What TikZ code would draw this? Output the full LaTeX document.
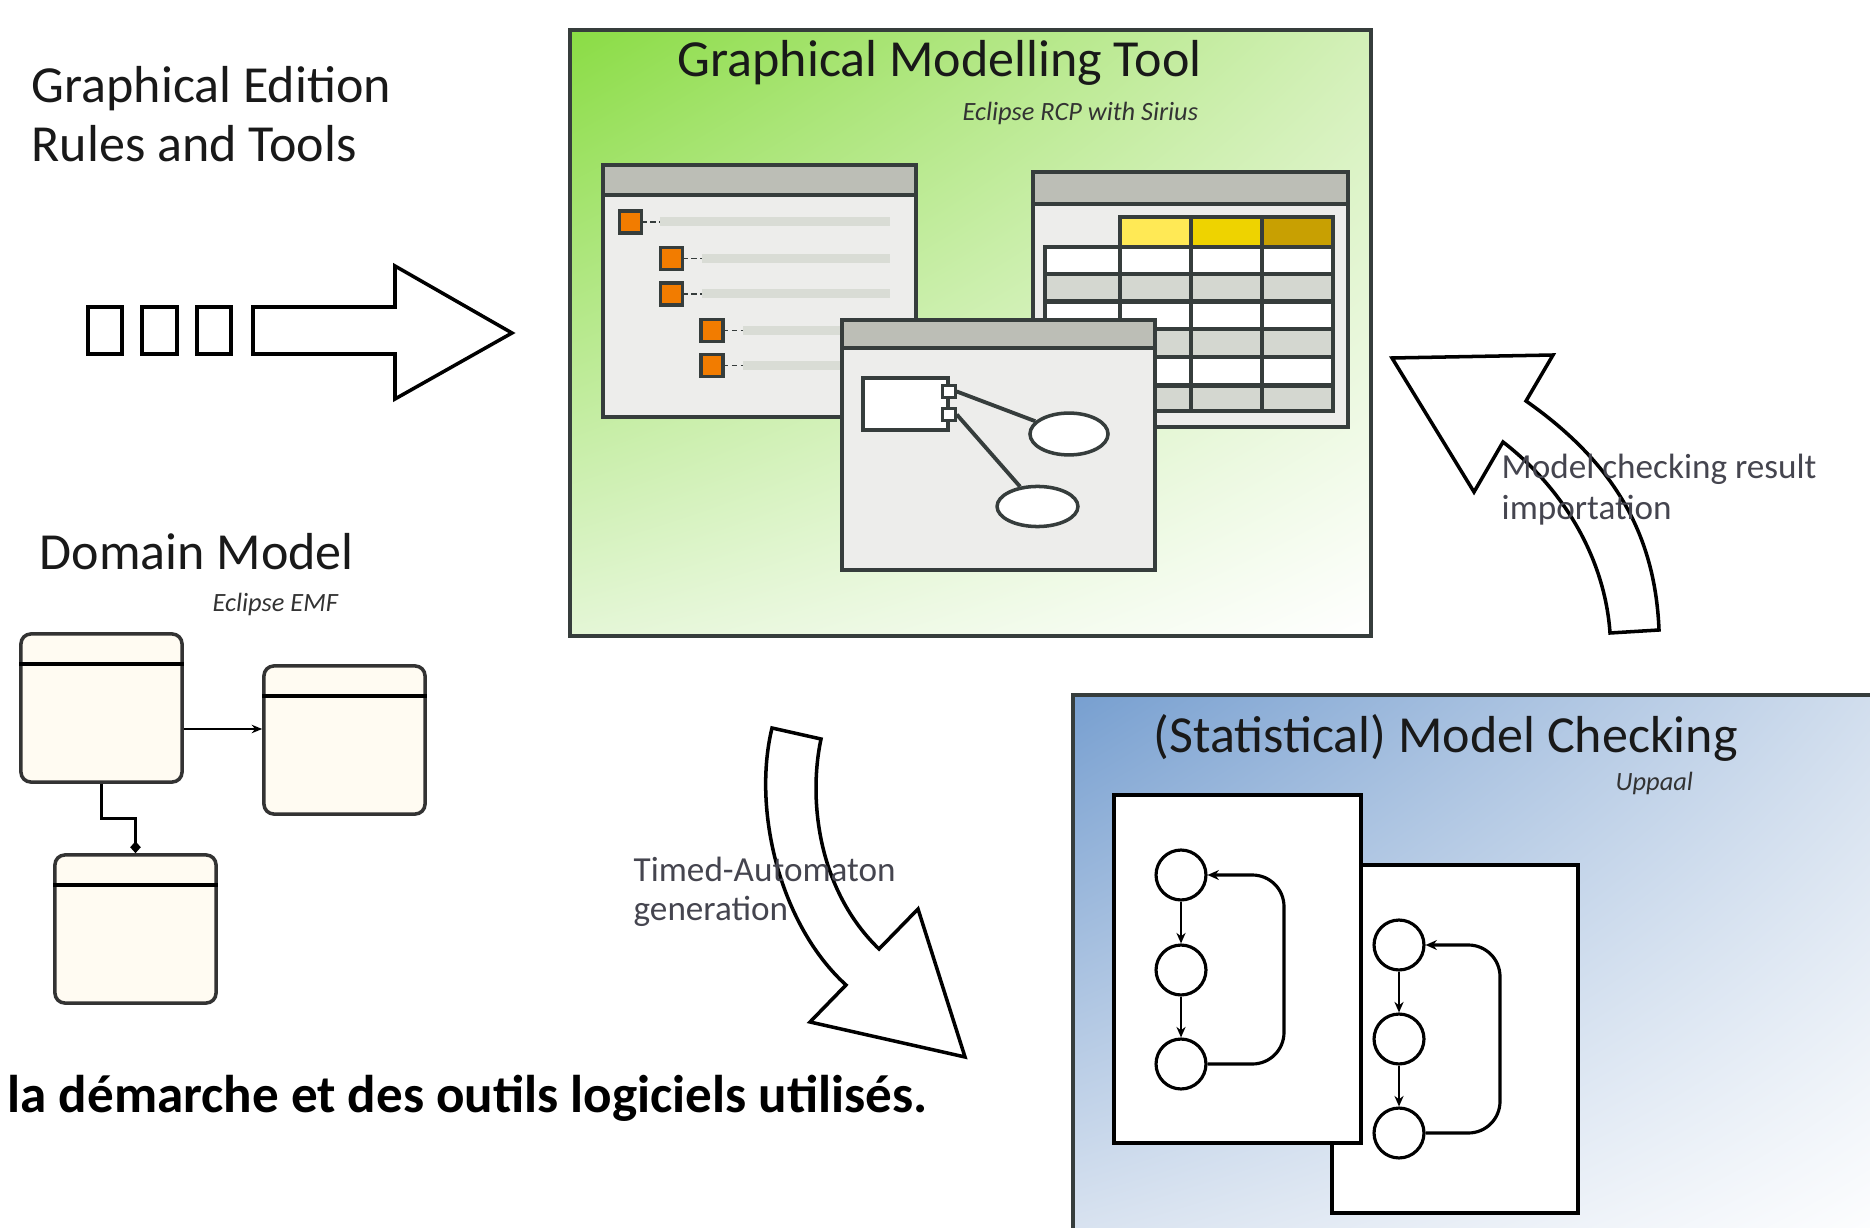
\documentclass[tikz,border=0pt]{standalone}
\usepackage{fontspec}
\setmainfont{Carlito}
\usetikzlibrary{arrows.meta,shapes.geometric,shadings}

\definecolor{framegrey}{HTML}{363D3C}
\definecolor{barcolor}{HTML}{BCBEB6}
\definecolor{panecolor}{HTML}{EDEDEB}
\definecolor{rowgrey}{HTML}{D4D7D0}
\definecolor{stripe}{HTML}{D9DCD5}
\definecolor{itemorange}{HTML}{F27C00}
\definecolor{headA}{HTML}{FFE955}
\definecolor{headB}{HTML}{EED300}
\definecolor{headC}{HTML}{C8A002}
\definecolor{classfill}{HTML}{FFFBF2}
\definecolor{labelink}{HTML}{45454F}
\definecolor{greenA}{HTML}{8ADC44}
\definecolor{greenB}{HTML}{D3F0B8}
\definecolor{greenC}{HTML}{E4F6D6}
\definecolor{blueA}{HTML}{779FD0}
\definecolor{blueB}{HTML}{D3DFEE}
\definecolor{blueC}{HTML}{DCE5F1}

\tikzset{
  heading/.style={anchor=base west, inner sep=0pt, text=black!90, font=\fontsize{14.8}{17}\selectfont},
  toolname/.style={anchor=base west, inner sep=0pt, text=black!80, font=\fontsize{7.5}{9}\selectfont\itshape},
  flowlabel/.style={anchor=base west, inner sep=0pt, text=labelink, font=\fontsize{10}{12}\selectfont},
  bigarrow/.style={draw=black, fill=white, line width=1pt, line join=miter},
  panel/.style={draw=framegrey, line width=1pt},
  window/.style={draw=framegrey, line width=0.9pt, fill=panecolor},
  titlebar/.style={draw=framegrey, line width=0.9pt, fill=barcolor},
  treeitem/.style={draw=framegrey, line width=0.9pt, fill=itemorange},
  treedash/.style={draw=framegrey, line width=0.4pt, dash pattern=on 1.5pt off 1pt},
  cell/.style={draw=framegrey, line width=1.3pt},
  classbox/.style={draw=black!80, line width=1pt, fill=classfill, rounded corners=2.8pt,
    minimum width=45.8pt, minimum height=42.1pt, inner sep=0pt},
  classline/.style={draw=black, line width=1pt},
  assoc/.style={draw=black, line width=0.8pt},
  port/.style={draw=framegrey, line width=0.8pt, fill=white, minimum size=3.6pt, inner sep=0pt},
  usecase/.style={ellipse, draw=framegrey, line width=1pt, fill=white, inner sep=0pt},
  automaton/.style={draw=black, line width=1pt, fill=white},
  location/.style={circle, draw=black, line width=0.9pt, fill=white, minimum size=14.2pt, inner sep=0pt},
  trans/.style={draw=black, line width=0.6pt, -{Stealth[length=3pt,width=2.6pt]}},
  backedge/.style={draw=black, line width=0.9pt, rounded corners=9pt, -{Stealth[length=3.2pt,width=2.8pt]}}
}

\begin{document}
\begin{tikzpicture}[x=0.01cm, y=-0.01cm]
    \useasboundingbox (0,0) rectangle (1870,1228);
    \clip (0,0) rectangle (1870,1228);

    \node[heading] (edtitle) at (31,103) {Graphical Edition};
    \node[heading] (edtitletwo) at (31,162) {Rules and Tools};

    \draw[bigarrow] (88,307) rectangle (122,354);
    \draw[bigarrow] (142,307) rectangle (177,354);
    \draw[bigarrow] (197,307) rectangle (231,354);
    \draw[bigarrow] (253,307) -- (395,307) -- (395,266) -- (512,333) -- (395,399) -- (395,354) -- (253,354) -- cycle;

    \node[heading] (dmtitle) at (39,570) {Domain Model};
    \node[toolname] (emf) at (212,612) {Eclipse EMF};

    \node[classbox] (clsA) at (101.5,708) {};
    \node[classbox] (clsB) at (344.5,740) {};
    \node[classbox] (clsC) at (135.5,929) {};
    \draw[classline] ([yshift=-9.1pt]clsA.north west) -- ([yshift=-9.1pt]clsA.north east);
    \draw[classline] ([yshift=-9.1pt]clsB.north west) -- ([yshift=-9.1pt]clsB.north east);
    \draw[classline] ([yshift=-9.1pt]clsC.north west) -- ([yshift=-9.1pt]clsC.north east);
    \draw[assoc, -{Stealth[length=3pt,width=2.4pt]}] (clsA.east) ++(0,21) coordinate (ab) -- (ab -| clsB.west);
    \draw[assoc, -{Diamond[length=3.4pt,width=3pt]}] (clsA.south) -- ++(0,35) -| (clsC.north);

    \shadedraw[panel, upper left=greenA, upper right=greenB, lower left=greenC, lower right=white] (570,30) rectangle (1371,636);
    \node[heading] (gmt) at (677,77) {Graphical Modelling Tool};
    \node[toolname] (rcp) at (962,121) {Eclipse RCP with Sirius};

    \draw[window] (603,165) rectangle (916,417);
    \draw[titlebar] (603,165) rectangle (916,195);
    \fill[stripe] (660,217.5) rectangle (890,226.5);
    \fill[stripe] (702,254) rectangle (890,263);
    \fill[stripe] (702,289.5) rectangle (890,298.5);
    \fill[stripe] (743,326) rectangle (890,335);
    \fill[stripe] (743,361) rectangle (890,370);
    \draw[treedash] (641.5,222) -- (660,222);
    \draw[treedash] (682.5,258.5) -- (702,258.5);
    \draw[treedash] (682.5,294) -- (702,294);
    \draw[treedash] (723,330.5) -- (743,330.5);
    \draw[treedash] (723,365.5) -- (743,365.5);
    \draw[treeitem] (619.5,211) rectangle (641.5,233);
    \draw[treeitem] (660.5,247.5) rectangle (682.5,269.5);
    \draw[treeitem] (660.5,283) rectangle (682.5,305);
    \draw[treeitem] (701,319.5) rectangle (723,341.5);
    \draw[treeitem] (701,354.5) rectangle (723,376.5);

    \draw[window] (1033,172) rectangle (1348,427);
    \draw[titlebar] (1033,172) rectangle (1348,204);
    \fill[headA] (1120,217) rectangle (1191,247);
    \fill[headB] (1191,217) rectangle (1262,247);
    \fill[headC] (1262,217) rectangle (1333,247);
    \fill[white] (1045,247) rectangle (1333,274);
    \fill[rowgrey] (1045,274) rectangle (1333,301.5);
    \fill[white] (1045,301.5) rectangle (1333,329);
    \fill[rowgrey] (1045,329) rectangle (1333,357);
    \fill[white] (1045,357) rectangle (1333,385.5);
    \fill[rowgrey] (1045,385.5) rectangle (1333,411);
    \draw[cell] (1120,217) rectangle (1333,411);
    \draw[cell] (1045,247) rectangle (1333,411);
    \draw[cell] (1191,217) -- (1191,411);
    \draw[cell] (1262,217) -- (1262,411);
    \draw[cell] (1045,274) -- (1333,274);
    \draw[cell] (1045,301.5) -- (1333,301.5);
    \draw[cell] (1045,329) -- (1333,329);
    \draw[cell] (1045,357) -- (1333,357);
    \draw[cell] (1045,385.5) -- (1333,385.5);

    \draw[window] (842,320) rectangle (1155,570);
    \draw[titlebar] (842,320) rectangle (1155,348);
    \draw[draw=framegrey, line width=1pt, fill=white] (863,378) rectangle (948,430);
    \node[port] (portA) at (949,391.5) {};
    \node[port] (portB) at (949,414.5) {};
    \node[usecase, minimum width=22.2pt, minimum height=11.9pt] (ucA) at (1069,434) {};
    \node[usecase, minimum width=23pt, minimum height=11.4pt] (ucB) at (1037.5,506.5) {};
    \draw[framegrey, line width=1.1pt] (portA.east) -- (ucA);
    \draw[framegrey, line width=1.1pt] (portB.east) -- (ucB);

    \draw[bigarrow] (772,728) -- (821,739) .. controls (808,800) and (818,890) .. (879,949) -- (918,909) -- (965,1057) -- (810,1022) -- (846,985) .. controls (780,925) and (752,810) .. (772,728) -- cycle;
    \node[flowlabel] (genone) at (633,881) {Timed-Automaton};
    \node[flowlabel] (gentwo) at (633,920) {generation};

    \shadedraw[panel, upper left=blueA, upper right=blueB, lower left=blueC, lower right=white] (1073,695) rectangle (1890,1250);
    \node[heading] (smc) at (1153,752) {(Statistical) Model Checking};
    \node[toolname] (uppaal) at (1615,790) {Uppaal};

    \draw[automaton] (1332,865) rectangle (1578,1213);
    \draw[automaton] (1114,795) rectangle (1361,1143);

    \node[location] (locA1) at (1181,875) {};
    \node[location] (locA2) at (1181,970) {};
    \node[location] (locA3) at (1181,1064) {};
    \coordinate (turnA) at (1284,970);
    \draw[trans] (locA1) -- (locA2);
    \draw[trans] (locA2) -- (locA3);
    \draw[backedge] (locA3.east) -| (turnA) |- (locA1.east);

    \node[location] (locB1) at (1399,945) {};
    \node[location] (locB2) at (1399,1039) {};
    \node[location] (locB3) at (1399,1133) {};
    \coordinate (turnB) at (1500,1039);
    \draw[trans] (locB1) -- (locB2);
    \draw[trans] (locB2) -- (locB3);
    \draw[backedge] (locB3.east) -| (turnB) |- (locB1.east);

    \draw[bigarrow] (1610,633) -- (1659,630) .. controls (1655,530) and (1610,460) .. (1526,401) -- (1553,355) -- (1392,358) -- (1474,492) -- (1503,442) .. controls (1565,490) and (1605,560) .. (1610,633) -- cycle;
    \node[flowlabel] (resone) at (1501,479) {Model checking result};
    \node[flowlabel] (restwo) at (1501,520) {importation};

    \node[anchor=base west, inner sep=0pt, font=\fontsize{15.1}{18}\selectfont\bfseries] (caption) at (7,1112) {la démarche et des outils logiciels utilisés.};

\end{tikzpicture}
\end{document}
